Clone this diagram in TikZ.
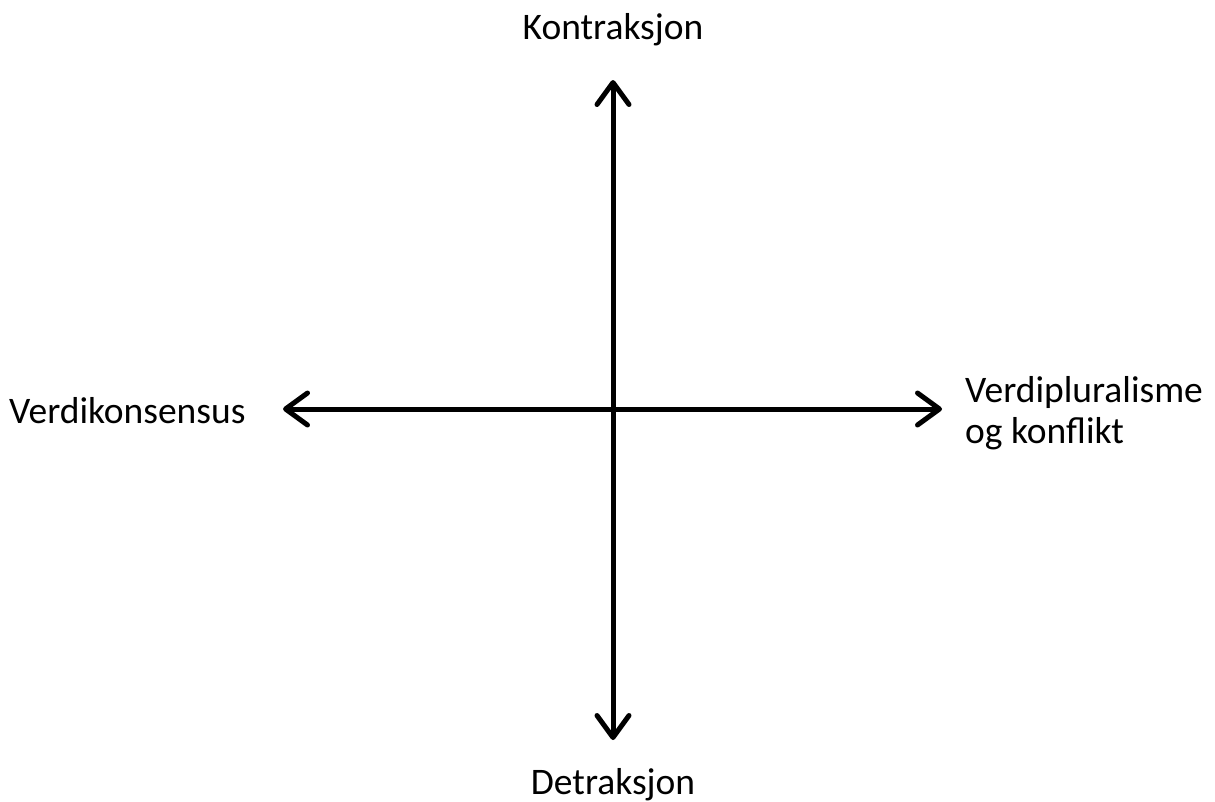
\documentclass[tikz,border=0pt]{standalone}
\usepackage{fontspec}
\setmainfont{Carlito}
\usetikzlibrary{arrows.meta}
\begin{document}
\begin{tikzpicture}[x=1pt,y=-1pt,
  axis/.style={line width=5pt,{Straight Barb[length=22pt 0,width=32pt 0,round]}-{Straight Barb[length=22pt 0,width=32pt 0,round]}},
  lbl/.style={inner sep=0pt,font=\fontsize{37.5}{41}\selectfont,text=black}]
\useasboundingbox (0,0) rectangle (1215,801);
\coordinate (top) at (613,80);
\coordinate (bot) at (613,740);
\coordinate (lft) at (283,409);
\coordinate (rgt) at (942,409);
\draw[axis] (bot) -- (top);
\draw[axis] (lft) -- (rgt);
\node[lbl,anchor=base] (kon) at (613,39) {Kontraksjon};
\node[lbl,anchor=base] (det) at (613,794) {Detraksjon};
\node[lbl,anchor=base west] (vk) at (9,423) {Verdikonsensus};
\node[lbl,anchor=base west,align=left] (vp) at (965,443) {Verdipluralisme\\og konflikt};
\end{tikzpicture}
\end{document}
